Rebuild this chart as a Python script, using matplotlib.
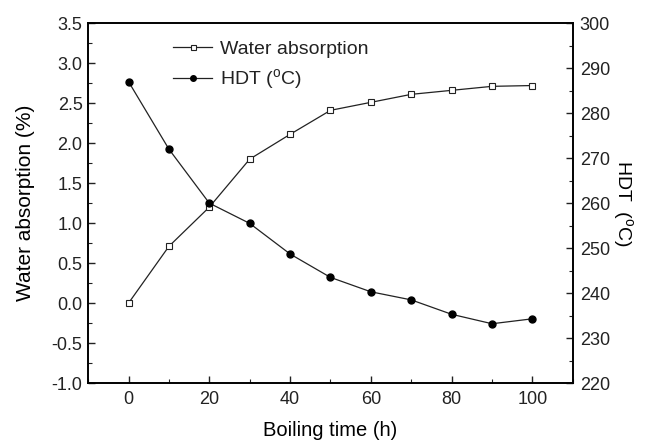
import matplotlib
matplotlib.use('Agg')
import matplotlib.pyplot as plt
from matplotlib.ticker import MultipleLocator

plt.rcParams['font.family'] = ['Liberation Sans', 'DejaVu Sans']
plt.rcParams['font.size'] = 13
plt.rcParams['text.color'] = '#222222'
plt.rcParams['xtick.color'] = '#222222'
plt.rcParams['ytick.color'] = '#222222'

# boiling time (h)
time_h = [0, 10, 20, 30, 40, 50, 60, 70, 80, 90, 100]
# water absorption (%)
water = [0.0, 0.71, 1.2, 1.8, 2.11, 2.41, 2.51, 2.61, 2.66, 2.71, 2.72]
# HDT (degC)
hdt = [287, 272, 260, 255.5, 248.7, 243.5, 240.3, 238.5, 235.3, 233.2, 234.3]

fig = plt.figure(figsize=(6.48, 4.45), dpi=100)
ax = fig.add_axes([0.136, 0.139, 0.748, 0.809])
ax2 = ax.twinx()

l1, = ax.plot(time_h, water, color='#222222', lw=0.9, marker='s', ms=4.5,
              mfc='white', mec='#222222', mew=0.8, label='Water absorption')
l2, = ax2.plot(time_h, hdt, color='#222222', lw=0.9, marker='o', ms=5,
               mfc='black', mec='black', label='HDT ($^{\\mathregular{o}}$C)')

ax.set_xlim(-10, 110)
ax.set_ylim(-1.0, 3.5)
ax2.set_ylim(220, 300)

ax.xaxis.set_major_locator(MultipleLocator(20))
ax.xaxis.set_minor_locator(MultipleLocator(10))
ax.yaxis.set_major_locator(MultipleLocator(0.5))
ax.yaxis.set_minor_locator(MultipleLocator(0.25))
ax2.yaxis.set_major_locator(MultipleLocator(10))
ax2.yaxis.set_minor_locator(MultipleLocator(5))
ax.yaxis.set_major_formatter(plt.FormatStrFormatter('%.1f'))

for a in (ax, ax2):
    a.tick_params(which='major', direction='in', length=5, width=1, labelsize=13)
    a.tick_params(which='minor', direction='in', length=3, width=0.8)
    for s in a.spines.values():
        s.set_linewidth(1.2)
ax.tick_params(axis='x', pad=6)
ax.tick_params(axis='y', pad=4)
ax2.tick_params(axis='y', pad=5)

ax.set_xlabel('Boiling time (h)', fontsize=14.5, labelpad=9)
ax.set_ylabel('Water absorption (%)', fontsize=15, labelpad=12)
ax2.set_ylabel('HDT  ($^{\\mathregular{o}}$C)', fontsize=14, rotation=-90, labelpad=18)

ax.legend(handles=[l1, l2], loc='upper left', bbox_to_anchor=(0.14, 1.0),
          frameon=False, fontsize=14, handlelength=2.0, handletextpad=0.4,
          labelspacing=0.45, markerscale=0.8)

fig.savefig('out.png', dpi=100)
